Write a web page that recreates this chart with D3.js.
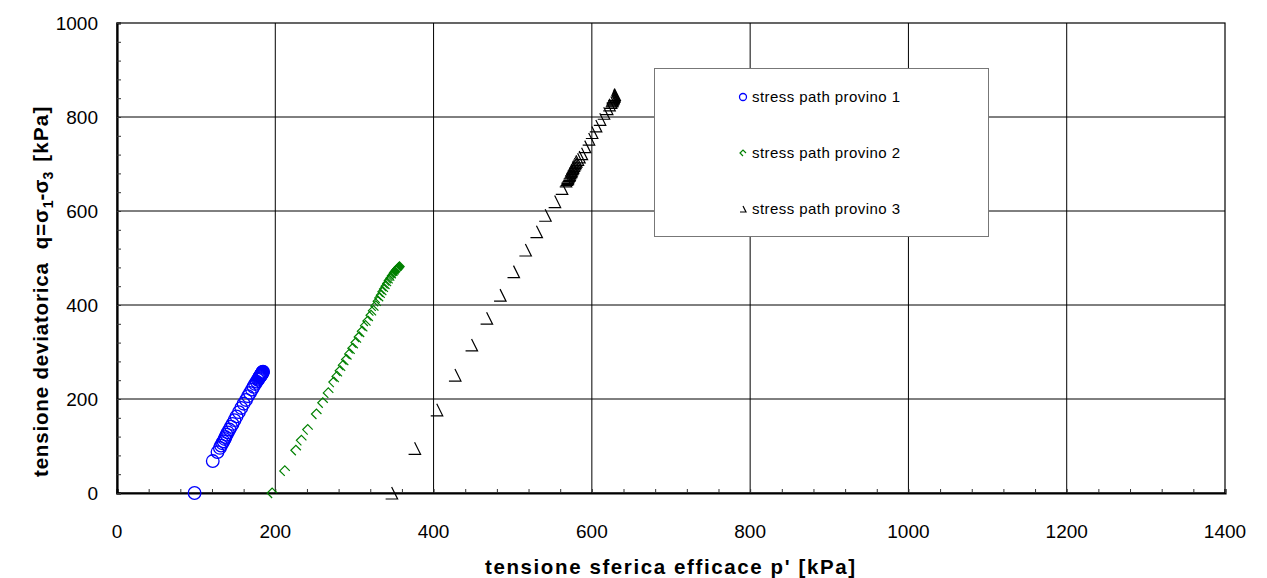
<!DOCTYPE html>
<html>
<head>
<meta charset="utf-8">
<script src="https://cdn.jsdelivr.net/npm/d3@7/dist/d3.min.js"></script>
<style>
  html, body { margin: 0; padding: 0; background: #fff; }
  svg { display: block; font-family: "Liberation Sans", Arial, sans-serif; }
</style>
</head>
<body>
<svg id="chart" width="1267" height="578"></svg>
<script>
// Stress paths of three triaxial specimens: p' (kPa) vs q (kPa)
const p1 = [98, 121, 127, 130, 131.5, 133, 134.5, 136, 137, 138.5, 140, 142, 144, 146, 148.5, 151, 154, 157, 160, 163, 165.5, 168, 170.5, 172.5, 174.5, 176.5, 178, 179, 179.5, 180, 180.5, 181, 181.5, 182, 182.5, 182.5, 183, 183, 183.5, 183.5, 184, 184, 184.5];
const q1 = [0, 68, 87, 96, 101, 106, 110, 115, 119, 124, 129, 135, 141, 147, 155, 163, 172, 181, 190, 198, 206, 213, 220, 226, 232, 237, 241, 243, 245, 246.5, 248, 249, 250, 251, 252, 253, 253.5, 254.5, 255, 256, 256.5, 257.5, 258];

const p2 = [196, 212, 226, 233, 241, 252, 260, 267, 274, 278, 282, 286, 290, 294, 298, 302, 306, 310, 314, 317, 321, 324, 327, 330, 332, 334, 336, 338, 340, 342, 344, 346, 348, 349.5, 350.5, 351.5, 352.5, 353, 353.5, 354, 354.5, 355, 355.5, 356, 356.5, 357];
const q2 = [0, 47, 91, 112, 135, 168, 192, 213, 236, 248, 260, 272, 284, 296, 308, 320, 332, 344, 356, 366, 378, 388, 398, 408, 415, 421, 428, 434, 440, 446, 452, 457, 462, 465, 468, 470, 472, 473, 474, 475, 476, 477, 478, 479, 480, 481];

const p3 = [347, 376, 404, 427, 448, 467, 484, 501, 516, 530, 541, 553, 562, 567, 568, 569, 569.5, 570, 571, 571.5, 572, 573, 573.5, 574, 575, 575.5, 576, 577, 578, 579, 580, 582, 584, 587, 591, 596, 600, 605, 610, 615, 619, 622, 624, 625, 625.5, 626, 626.5, 627, 627, 627.5, 628, 628, 628.5];
const q3 = [0, 95, 177, 251, 315, 372, 421, 471, 517, 556, 591, 620, 648, 664, 667, 669, 671, 674, 676, 678, 681, 683, 685, 687, 690, 692, 694, 697, 700, 703, 706, 710, 715, 722, 737, 753, 767, 781, 795, 808, 818, 826, 831, 834, 836, 838, 840, 841, 843, 844, 845, 847, 848];

const seriesNames = ["stress path provino 1", "stress path provino 2", "stress path provino 3"];
const seriesColors = ["#0000ff", "#008000", "#000000"];

const xTicks = [0, 200, 400, 600, 800, 1000, 1200, 1400];
const yTicks = [0, 200, 400, 600, 800, 1000];

const xTitle = "tensione sferica efficace p' [kPa]";

const svg = d3.select("#chart");
const plotL = 117, plotR = 1225, plotT = 23, plotB = 493;

const x = d3.scaleLinear().domain([0, 1400]).range([plotL, plotR]);
const y = d3.scaleLinear().domain([0, 1000]).range([plotB, plotT]);

// grid
const grid = svg.append("g").attr("stroke", "#000").attr("stroke-width", 1);
grid.selectAll("line.gx").data(xTicks.slice(1, -1)).join("line").attr("class", "gx")
  .attr("x1", d => x(d)).attr("x2", d => x(d)).attr("y1", plotT).attr("y2", plotB);
grid.selectAll("line.gy").data(yTicks.slice(1, -1)).join("line").attr("class", "gy")
  .attr("x1", plotL).attr("x2", plotR).attr("y1", d => y(d)).attr("y2", d => y(d));

// frame
svg.append("rect").attr("x", plotL).attr("y", plotT).attr("width", plotR - plotL).attr("height", plotB - plotT)
  .attr("fill", "none").attr("stroke", "#000").attr("stroke-width", 1.2);

// axes with inward minor ticks
const xAxis = d3.axisBottom(x).tickValues(d3.range(0, 1401, 40)).tickSize(-4).tickFormat("");
const yAxis = d3.axisLeft(y).tickValues(d3.range(0, 1001, 40)).tickSize(-4).tickFormat("");
const gx = svg.append("g").attr("transform", `translate(0,${plotB})`).call(xAxis);
const gy = svg.append("g").attr("transform", `translate(${plotL},0)`).call(yAxis);
[gx, gy].forEach(g => {
  g.select(".domain").attr("stroke", "#000").attr("stroke-width", 2.2);
  g.selectAll(".tick line").attr("stroke", "#333").attr("stroke-width", 1);
});

// tick labels
svg.append("g").selectAll("text").data(xTicks).join("text")
  .attr("x", d => x(d)).attr("y", 538).attr("text-anchor", "middle")
  .attr("font-size", 19).attr("fill", "#000").text(d => d);
svg.append("g").selectAll("text").data(yTicks).join("text")
  .attr("x", 98).attr("y", d => y(d) + 7).attr("text-anchor", "end")
  .attr("font-size", 19).attr("fill", "#000").text(d => d);

// axis titles
svg.append("text").attr("x", 485).attr("y", 574)
  .attr("font-size", 20.5).attr("font-weight", "bold")
  .attr("textLength", 370).attr("lengthAdjust", "spacing").text(xTitle);

const yt = svg.append("text").attr("transform", "translate(48,477) rotate(-90)")
  .attr("font-size", 20.5).attr("font-weight", "bold");
yt.append("tspan").attr("textLength", 268).attr("lengthAdjust", "spacing")
  .text("tensione deviatorica\u00a0\u00a0q=σ");
yt.append("tspan").attr("font-size", 14).attr("dy", 5).text("1");
yt.append("tspan").attr("dy", -5).text("-σ");
yt.append("tspan").attr("font-size", 14).attr("dy", 5).text("3");
yt.append("tspan").attr("dy", -5).attr("dx", 3).attr("textLength", 62).attr("lengthAdjust", "spacing").text(" [kPa]");

// marker shapes
function markerPath(kind, s) {
  if (kind === 1) {
    // open diamond, bottom-right edge missing
    return `M${0},${s} L${-s},0 L0,${-s} L${s},0`;
  }
  // open triangle, left edge missing
  return `M0,${-s} L${s},${s} L${-s},${s}`;
}

const plot = svg.append("g");
// series 1: circles
plot.append("g").selectAll("circle").data(d3.zip(p1, q1)).join("circle")
  .attr("cx", d => x(d[0])).attr("cy", d => y(d[1])).attr("r", 6.3)
  .attr("fill", "none").attr("stroke", seriesColors[0]).attr("stroke-width", 1.3);
// series 2
plot.append("g").selectAll("path").data(d3.zip(p2, q2)).join("path")
  .attr("transform", d => `translate(${x(d[0])},${y(d[1])})`)
  .attr("d", markerPath(1, 5))
  .attr("fill", "none").attr("stroke", seriesColors[1]).attr("stroke-width", 1.2);
// series 3
plot.append("g").selectAll("path").data(d3.zip(p3, q3)).join("path")
  .attr("transform", d => `translate(${x(d[0])},${y(d[1])})`)
  .attr("d", markerPath(2, 6))
  .attr("fill", "none").attr("stroke", seriesColors[2]).attr("stroke-width", 1.2);

// legend
const lg = svg.append("g");
lg.append("rect").attr("x", 654.5).attr("y", 68.5).attr("width", 334).attr("height", 168)
  .attr("fill", "#fff").attr("stroke", "#777").attr("stroke-width", 1);
const rows = [97, 153, 209];
seriesNames.forEach((name, i) => {
  const mx = 743, my = rows[i];
  if (i === 0) {
    lg.append("circle").attr("cx", mx).attr("cy", my).attr("r", 3.5)
      .attr("fill", "none").attr("stroke", seriesColors[0]).attr("stroke-width", 1.3);
  } else {
    lg.append("path").attr("transform", `translate(${mx},${my})`)
      .attr("d", markerPath(i, 3)).attr("fill", "none")
      .attr("stroke", seriesColors[i]).attr("stroke-width", 1.2);
  }
  lg.append("text").attr("x", 752).attr("y", my + 5).attr("font-size", 15)
    .attr("textLength", 148).attr("lengthAdjust", "spacing")
    .attr("fill", "#000").text(name);
});
</script>
</body>
</html>
